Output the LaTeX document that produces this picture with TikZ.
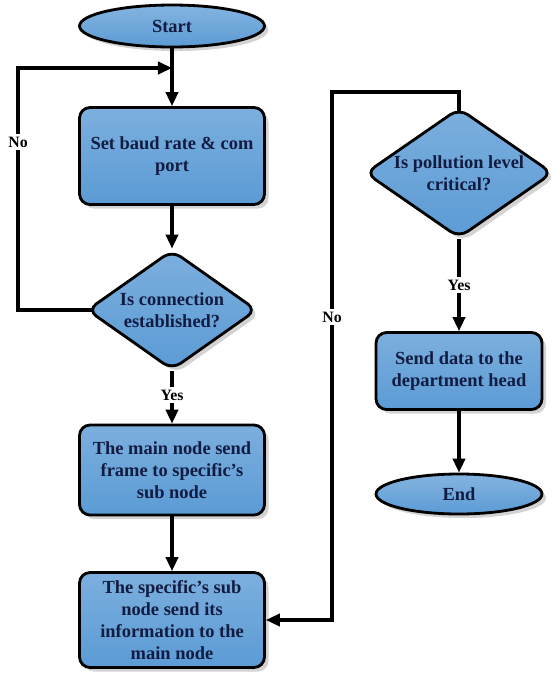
\documentclass[tikz,border=0pt]{standalone}
\usepackage{fontspec}
\setmainfont{Liberation Serif}
\usepackage{tikz}
\usetikzlibrary{arrows.meta, shapes.geometric, shadows}
\definecolor{flowblue}{RGB}{91, 155, 213}
\definecolor{flowtext}{RGB}{18, 28, 66}

\begin{document}
\begin{tikzpicture}[
    x=0.02cm, y=-0.02cm,
    terminal/.style={ellipse, draw, line width=1.6pt, top color=flowblue!75!white, bottom color=flowblue, drop shadow={opacity=0.35}, font=\fontsize{10.5}{12.5}\selectfont\bfseries, text=flowtext},
    process/.style={rectangle, rounded corners=6pt, draw, line width=1.6pt, top color=flowblue!80!white, bottom color=flowblue, drop shadow={opacity=0.35}, align=center, font=\fontsize{10.5}{12.5}\selectfont\bfseries, text=flowtext, inner sep=2pt},
    decision/.style={diamond, rounded corners=6pt, draw, line width=1.6pt, top color=flowblue!80!white, bottom color=flowblue, drop shadow={opacity=0.35}, align=center, font=\fontsize{10.5}{12.5}\selectfont\bfseries, text=flowtext, inner sep=0pt},
    arrow/.style={-{Triangle[length=8pt, width=7pt]}, line width=1.8pt},
    answer/.style={fill=white, inner sep=1.5pt, font=\fontsize{9}{10}\selectfont\bfseries}
]
    \useasboundingbox (0,0) rectangle (558,677);

    % Left column
    \node[terminal, minimum width=3.7cm, minimum height=0.84cm] (start) at (172,26) {Start};
    \node[process, minimum width=3.7cm, minimum height=1.94cm] (baud) at (172,156) {Set baud rate \& com\\port};
    \node[decision, minimum width=3.4cm, minimum height=2.4cm, aspect=1.43] (conn) at (172,310) {Is connection\\established?};
    \node[process, minimum width=3.7cm, minimum height=1.8cm] (send) at (172,470) {The main node send\\frame to specific's\\sub node};
    \node[process, minimum width=3.7cm, minimum height=1.9cm] (reply) at (172,620) {The specific's sub\\node send its\\information to the\\main node};

    % Right column
    \node[decision, minimum width=3.75cm, minimum height=2.6cm, aspect=1.45] (level) at (459,173) {Is pollution level\\critical?};
    \node[process, minimum width=3.32cm, minimum height=1.54cm] (head) at (459,371) {Send data to the\\department head};
    \node[terminal, minimum width=3.32cm, minimum height=0.8cm] (end) at (459,494) {End};

    % Loop points
    \coordinate (merge) at (172,68);
    \coordinate (leftcorner) at (18,68);
    \coordinate (topcorner) at (332,92);
    \coordinate (connleft) at ([xshift=4pt]conn.west);
    \coordinate (leveltop) at ([yshift=-3pt]level.north);

    % Arrows
    \draw[arrow] (start) -- (baud);
    \draw[arrow] (baud) -- (conn);
    \draw[arrow] (connleft) -| (leftcorner) -- (merge);
    \draw[arrow] (conn) -- (send);
    \draw[arrow] (send) -- (reply);
    \draw[arrow] (leveltop) |- (topcorner) |- (reply.east);
    \draw[arrow] (level) -- (head);
    \draw[arrow] (head) -- (end);

    % Labels
    \node[answer] (noleft) at (18,142) {No};
    \node[answer] (yesleft) at (172,395) {Yes};
    \node[answer] (noright) at (332,317) {No};
    \node[answer] (yesright) at (459,285) {Yes};
\end{tikzpicture}
\end{document}
